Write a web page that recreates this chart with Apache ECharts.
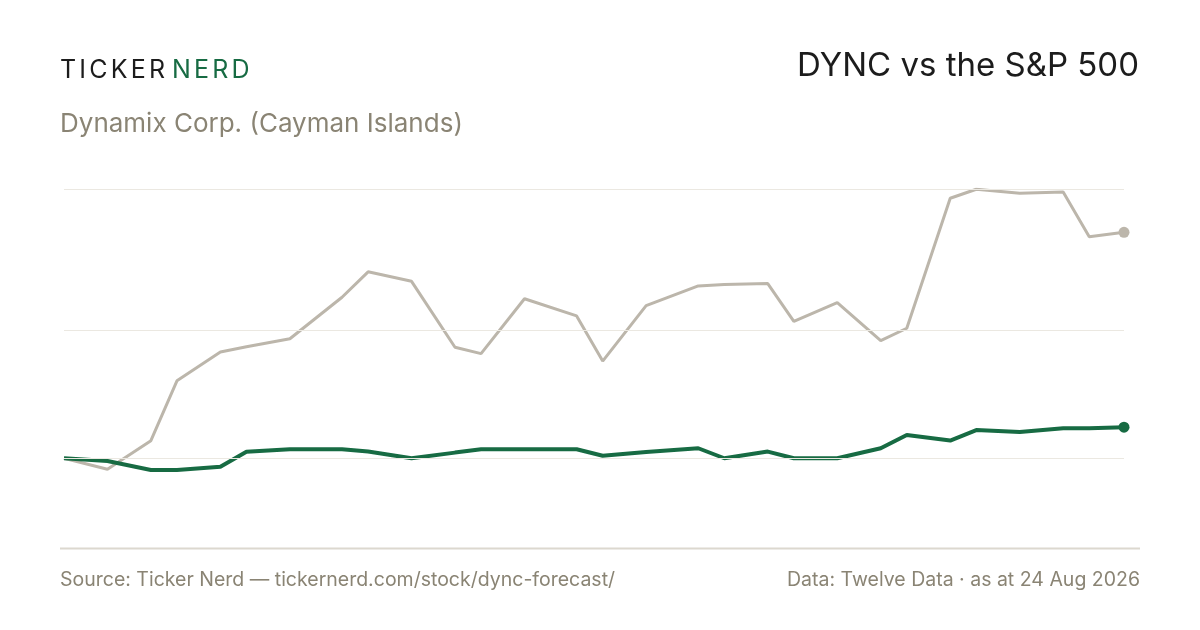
<!DOCTYPE html>
<html>
<head>
<meta charset="utf-8">
<script src="https://cdn.jsdelivr.net/npm/echarts@6/dist/echarts.min.js"></script>
<style>
html,body{margin:0;padding:0;background:#fff;}
#c{width:1200px;height:630px;}
</style>
</head>
<body>
<div id="c"></div>
<script>
const dates = ['2026-04-24','2026-04-29','2026-05-04','2026-05-07','2026-05-12','2026-05-15','2026-05-20','2026-05-26','2026-05-29','2026-06-03','2026-06-08','2026-06-11','2026-06-16','2026-06-22','2026-06-25','2026-06-30','2026-07-06','2026-07-09','2026-07-14','2026-07-17','2026-07-22','2026-07-27','2026-07-30','2026-08-04','2026-08-07','2026-08-12','2026-08-17','2026-08-20','2026-08-24'];
const dyncReturn = [0,-4.3,6.85,30.2,41.4,43.5,46.6,62.8,72.7,69.0,43.3,40.8,62.2,55.5,37.9,59.5,67.2,67.8,68.1,53.4,60.7,45.9,50.7,101.4,104.9,103.3,103.8,86.4,88.1];
const spxReturn = [0,-1.05,-4.6,-4.6,-3.3,2.55,3.5,3.5,2.6,0,2.2,3.5,3.5,3.5,1.0,2.4,3.9,0,2.6,0,0,3.9,9.1,6.9,11.0,10.2,11.7,11.7,12.1];
const gridValues = [0,50,105];
const brandWords = ['TICKER','NERD'];

function build(vals, color){
  return vals.map((v,i)=>{
    const item = {value:[dates[i], v]};
    if(i===vals.length-1){ item.symbol='circle'; item.symbolSize=11; item.itemStyle={color:color}; }
    return item;
  });
}

const FONT = 'Inter, "Noto Sans", sans-serif';
// letter-spaced brand mark built as rich text tokens
const brandRich = {};
let brandText = '';
brandWords.forEach((w,wi)=>{
  w.split('').forEach((ch,ci)=>{
    const key = 'w'+wi+'c'+ci;
    const last = ci===w.length-1;
    brandRich[key] = {fontFamily:FONT,fontSize:25,fill: wi===0 ? '#1c1c1c' : '#176b43',
      padding:[0, last ? (wi===0 ? 7 : 0) : 3.2, 0, 0]};
    brandText += '{'+key+'|'+ch+'}';
  });
});

const chart = echarts.init(document.getElementById('c'), null, {renderer:'canvas'});
chart.setOption({
  animation:false,
  backgroundColor:'#ffffff',
  grid:{left:64,right:76,top:189,bottom:82},
  xAxis:{type:'time',min:dates[0],max:dates[dates.length-1],show:false,splitLine:{show:false}},
  yAxis:{type:'value',min:-35,max:105,show:false,splitLine:{show:false}},
  series:[
    {type:'line',data:[],silent:true,z:1,
     markLine:{silent:true,symbol:['none','none'],label:{show:false},
       lineStyle:{color:'#ebe8e1',width:1,type:'solid'},
       data:gridValues.map(v=>({yAxis:v}))}},
    {name:'DYNC',type:'line',data:build(dyncReturn,'#bcb6ab'),symbol:'none',z:3,
     lineStyle:{color:'#bcb6ab',width:3},itemStyle:{color:'#bcb6ab'}},
    {name:'S&P 500',type:'line',data:build(spxReturn,'#176b43'),symbol:'none',z:4,
     lineStyle:{color:'#176b43',width:4},itemStyle:{color:'#176b43'}}
  ],
  graphic:[
    {type:'line',shape:{x1:60,y1:548.5,x2:1140,y2:548.5},style:{stroke:'#dcd8cf',lineWidth:2},silent:true},
    {type:'text',x:60,y:70,style:{text:brandText,verticalAlign:'middle',rich:brandRich}},
    {type:'text',x:60,y:124,style:{text:'Dynamix Corp. (Cayman Islands)',fontFamily:FONT,fontSize:26,fill:'#8a8474',verticalAlign:'middle'}},
    {type:'text',x:1139,y:66,style:{text:'DYNC vs the S&P 500',fontFamily:FONT,fontSize:33,fill:'#1c1c1c',align:'right',verticalAlign:'middle'}},
    {type:'text',x:60,y:580,style:{text:'Source: Ticker Nerd — tickernerd.com/stock/dync-forecast/',fontFamily:FONT,fontSize:19.5,fill:'#8a8474',verticalAlign:'middle'}},
    {type:'text',x:1140,y:580,style:{text:'Data: Twelve Data · as at 24 Aug 2026',fontFamily:FONT,fontSize:19.5,fill:'#8a8474',align:'right',verticalAlign:'middle'}}
  ]
});
</script>
</body>
</html>
